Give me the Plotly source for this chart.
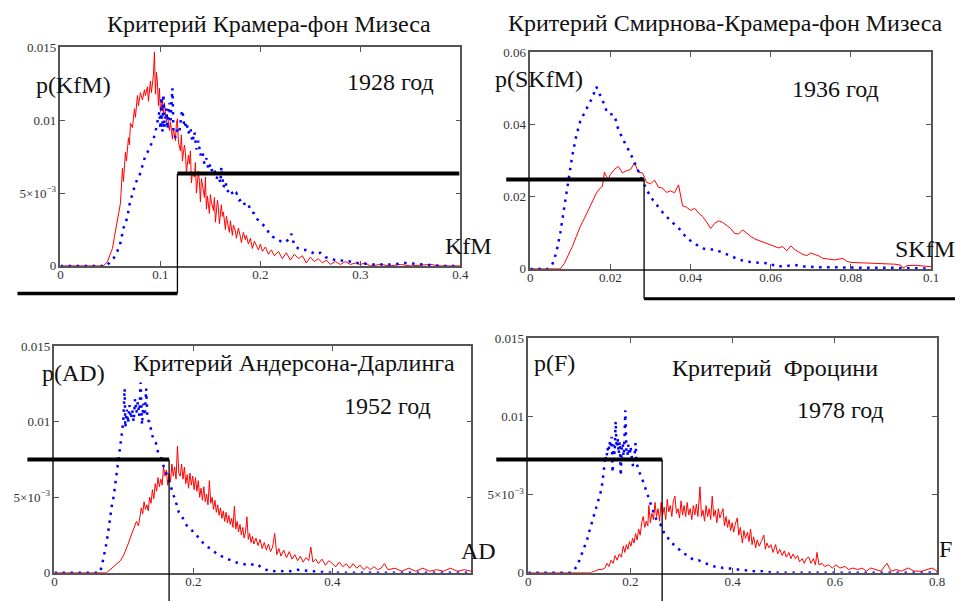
import plotly.graph_objects as go

W, H = 963, 601
# Measured screen mapping of this page (screen = S * figure + C); used to place
# the layout so that it lands on the reference pixel positions.
SX, CX = 0.988, 8.5
SY, CY = 0.982, 12.3
FONT = "Liberation Serif, Times New Roman, serif"

# ---------------- data (x, p(x)) ----------------
kfm_red = [(0, 0), (0.043, 0), (0.047, 0.0003), (0.050, 0.0008), (0.052, 0.0012), (0.054, 0.0020), (0.056, 0.0027),
           (0.058, 0.0036), (0.060, 0.0043), (0.062, 0.0067), (0.063, 0.0058), (0.065, 0.0078), (0.066, 0.0072),
           (0.068, 0.0088), (0.069, 0.0083), (0.070, 0.0098), (0.072, 0.0095), (0.074, 0.0108), (0.075, 0.0102),
           (0.077, 0.0117), (0.078, 0.0110), (0.080, 0.0119), (0.082, 0.0114), (0.084, 0.0121), (0.085, 0.0117),
           (0.087, 0.0123), (0.088, 0.0113), (0.090, 0.0127), (0.091, 0.0119), (0.093, 0.0131), (0.094, 0.0147),
           (0.095, 0.0118), (0.096, 0.0133), (0.097, 0.0126), (0.098, 0.0110), (0.099, 0.0122), (0.100, 0.0106),
           (0.102, 0.0114), (0.103, 0.0104), (0.104, 0.0112), (0.106, 0.0099), (0.107, 0.0104), (0.109, 0.0093),
           (0.110, 0.0099), (0.112, 0.0087), (0.113, 0.0094), (0.115, 0.0086), (0.116, 0.0098), (0.117, 0.0101),
           (0.118, 0.0085), (0.120, 0.0079), (0.121, 0.0090), (0.122, 0.0072), (0.124, 0.0083), (0.125, 0.0078),
           (0.126, 0.0064), (0.128, 0.0076), (0.129, 0.0070), (0.130, 0.0079), (0.131, 0.0057), (0.132, 0.0064),
           (0.134, 0.0061), (0.135, 0.0071), (0.136, 0.0050), (0.138, 0.0065), (0.139, 0.0058), (0.140, 0.0044),
           (0.141, 0.0060), (0.143, 0.0052), (0.144, 0.0047), (0.145, 0.0061), (0.146, 0.0039), (0.147, 0.0048),
           (0.149, 0.0036), (0.150, 0.0049), (0.151, 0.0044), (0.153, 0.0038), (0.154, 0.0047), (0.155, 0.0030),
           (0.157, 0.0045), (0.158, 0.0040), (0.159, 0.0029), (0.161, 0.0042), (0.162, 0.0034), (0.163, 0.0037),
           (0.165, 0.0025), (0.166, 0.0034), (0.168, 0.0028), (0.169, 0.0023), (0.170, 0.0031), (0.172, 0.0021),
           (0.173, 0.0028), (0.175, 0.0024), (0.176, 0.0019), (0.178, 0.0026), (0.180, 0.0020), (0.181, 0.0016),
           (0.183, 0.0023), (0.185, 0.0018), (0.186, 0.0021), (0.188, 0.0015), (0.190, 0.0019), (0.192, 0.0012),
           (0.194, 0.0017), (0.196, 0.0014), (0.198, 0.0011), (0.200, 0.0015), (0.202, 0.0010), (0.205, 0.0013),
           (0.208, 0.0008), (0.211, 0.0011), (0.214, 0.0007), (0.218, 0.0010), (0.222, 0.0005), (0.226, 0.0009),
           (0.230, 0.0004), (0.234, 0.0008), (0.238, 0.0005), (0.242, 0.0007), (0.246, 0.0002), (0.250, 0.0006),
           (0.254, 0.0003), (0.258, 0.0005), (0.262, 0.0002), (0.266, 0.0004), (0.270, 0.0001), (0.275, 0.0003),
           (0.280, 0.0001), (0.285, 0.0003), (0.290, 0.0001), (0.295, 0.0002), (0.300, 0.0001), (0.305, 0.0002),
           (0.310, 0.0000), (0.320, 0.0001), (0.330, 0.0000), (0.340, 0.0001), (0.350, 0.0000), (0.370, 0.0001),
           (0.380, 0.0000), (0.400, 0.0000)]

kfm_blue = [(0, 0), (0.046, 0), (0.050, 0.0003), (0.053, 0.0005), (0.056, 0.0009), (0.059, 0.0013), (0.061, 0.0019),
            (0.063, 0.0026), (0.065, 0.0029), (0.067, 0.0034), (0.069, 0.0042), (0.071, 0.0048), (0.073, 0.0052),
            (0.075, 0.0056), (0.077, 0.0060), (0.079, 0.0062), (0.081, 0.0066), (0.083, 0.0071), (0.085, 0.0076),
            (0.087, 0.0078), (0.089, 0.0081), (0.091, 0.0084), (0.093, 0.0087), (0.095, 0.0092), (0.097, 0.0099),
            (0.099, 0.0106), (0.100, 0.0094), (0.101, 0.0116), (0.102, 0.0092), (0.103, 0.0118), (0.104, 0.0095),
            (0.106, 0.0108), (0.107, 0.0094), (0.109, 0.0112), (0.110, 0.0098), (0.112, 0.0122), (0.113, 0.0093),
            (0.115, 0.0088), (0.117, 0.0094), (0.119, 0.0092), (0.121, 0.0104), (0.122, 0.0107), (0.124, 0.0095),
            (0.126, 0.0099), (0.128, 0.0091), (0.130, 0.0095), (0.132, 0.0085), (0.134, 0.0092), (0.136, 0.0080),
            (0.138, 0.0086), (0.140, 0.0076), (0.142, 0.0079), (0.144, 0.0070), (0.146, 0.0074), (0.148, 0.0066),
            (0.150, 0.0070), (0.152, 0.0064), (0.154, 0.0066), (0.156, 0.0060), (0.158, 0.0062), (0.160, 0.0057),
            (0.161, 0.0068), (0.163, 0.0054), (0.165, 0.0058), (0.167, 0.0051), (0.170, 0.0053), (0.173, 0.0048),
            (0.176, 0.0050), (0.179, 0.0045), (0.182, 0.0046), (0.185, 0.0041), (0.188, 0.0042), (0.191, 0.0037),
            (0.194, 0.0036), (0.197, 0.0032), (0.200, 0.0030), (0.203, 0.0028), (0.206, 0.0026), (0.209, 0.0022),
            (0.212, 0.0020), (0.216, 0.0019), (0.220, 0.0017), (0.224, 0.0016), (0.228, 0.0018), (0.231, 0.0022),
            (0.234, 0.0014), (0.238, 0.0012), (0.242, 0.0011), (0.246, 0.0011), (0.250, 0.0010), (0.255, 0.0008),
            (0.260, 0.0009), (0.265, 0.0006), (0.270, 0.0005), (0.275, 0.0004), (0.280, 0.0004), (0.285, 0.0003),
            (0.290, 0.0003), (0.295, 0.0002), (0.300, 0.0002), (0.310, 0.0001), (0.320, 0.0001), (0.330, 0.0001),
            (0.345, 0.0002), (0.360, 0.0001), (0.380, 0.0000), (0.400, 0.0000)]

skfm_red = [(0, 0), (0.0075, 0), (0.0085, 0.0015), (0.0095, 0.0038), (0.0105, 0.0062), (0.0115, 0.0090),
            (0.0125, 0.0118), (0.0135, 0.0140), (0.0145, 0.0163), (0.0155, 0.0186), (0.0165, 0.0210),
            (0.0175, 0.0225), (0.0180, 0.0229), (0.0185, 0.0268), (0.0190, 0.0256), (0.0195, 0.0250),
            (0.0200, 0.0262), (0.0210, 0.0276), (0.0220, 0.0284), (0.0230, 0.0266), (0.0240, 0.0272),
            (0.0250, 0.0275), (0.0260, 0.0294), (0.0270, 0.0268), (0.0280, 0.0266), (0.0285, 0.0254),
            (0.0290, 0.0240), (0.0300, 0.0236), (0.0310, 0.0246), (0.0320, 0.0226), (0.0330, 0.0224),
            (0.0340, 0.0212), (0.0350, 0.0216), (0.0360, 0.0211), (0.0370, 0.0233), (0.0380, 0.0175),
            (0.0390, 0.0171), (0.0400, 0.0162), (0.0410, 0.0168), (0.0420, 0.0155), (0.0430, 0.0145),
            (0.0440, 0.0130), (0.0450, 0.0112), (0.0460, 0.0126), (0.0470, 0.0133), (0.0480, 0.0129),
            (0.0490, 0.0121), (0.0500, 0.0112), (0.0510, 0.0098), (0.0520, 0.0097), (0.0530, 0.0108),
            (0.0540, 0.0098), (0.0550, 0.0090), (0.0560, 0.0083), (0.0570, 0.0079), (0.0580, 0.0074),
            (0.0590, 0.0069), (0.0600, 0.0066), (0.0610, 0.0062), (0.0620, 0.0058), (0.0630, 0.0062),
            (0.0640, 0.0050), (0.0650, 0.0064), (0.0660, 0.0053), (0.0670, 0.0047), (0.0680, 0.0040),
            (0.0690, 0.0037), (0.0700, 0.0044), (0.0710, 0.0040), (0.0720, 0.0036), (0.0730, 0.0029),
            (0.0740, 0.0027), (0.0760, 0.0025), (0.0780, 0.0029), (0.0790, 0.0021), (0.0800, 0.0018),
            (0.0820, 0.0017), (0.0850, 0.0016), (0.0880, 0.0014), (0.0910, 0.0013), (0.0925, 0.0010),
            (0.0930, 0.0002), (0.0940, 0.0009), (0.0960, 0.0010), (0.0980, 0.0008), (0.1000, 0.0006)]

skfm_blue = [(0, 0), (0.0045, 0), (0.0055, 0.0012), (0.0065, 0.0045), (0.0075, 0.0100), (0.0085, 0.0170),
             (0.0095, 0.0250), (0.0105, 0.0315), (0.0115, 0.0370), (0.0125, 0.0410), (0.0135, 0.0432),
             (0.0145, 0.0452), (0.0155, 0.0475), (0.0165, 0.0505), (0.0175, 0.0482), (0.0185, 0.0455),
             (0.0192, 0.0432), (0.0200, 0.0430), (0.0210, 0.0426), (0.0220, 0.0385), (0.0230, 0.0360),
             (0.0240, 0.0340), (0.0250, 0.0320), (0.0260, 0.0296), (0.0270, 0.0270), (0.0280, 0.0243),
             (0.0290, 0.0220), (0.0300, 0.0200), (0.0310, 0.0185), (0.0320, 0.0170), (0.0330, 0.0157),
             (0.0340, 0.0145), (0.0350, 0.0133), (0.0360, 0.0123), (0.0370, 0.0114), (0.0380, 0.0100),
             (0.0390, 0.0086), (0.0400, 0.0078), (0.0410, 0.0070), (0.0420, 0.0063), (0.0430, 0.0057),
             (0.0440, 0.0054), (0.0460, 0.0054), (0.0480, 0.0046), (0.0500, 0.0036), (0.0520, 0.0026),
             (0.0540, 0.0020), (0.0560, 0.0018), (0.0580, 0.0017), (0.0600, 0.0015), (0.0610, 0.0007),
             (0.0640, 0.0008), (0.0660, 0.0011), (0.0680, 0.0007), (0.0710, 0.0005), (0.0750, 0.0004),
             (0.0800, 0.0004), (0.0850, 0.0003), (0.0900, 0.0003), (0.0950, 0.0002), (0.1000, 0.0001)]

ad_red = [(0, 0), (0.075, 0), (0.080, 0.0002), (0.085, 0.0004), (0.090, 0.0006), (0.095, 0.0008), (0.100, 0.0012),
          (0.103, 0.0015), (0.106, 0.0019), (0.109, 0.0023), (0.112, 0.0027), (0.115, 0.0030), (0.118, 0.0034),
          (0.121, 0.0031), (0.123, 0.0038), (0.125, 0.0043), (0.127, 0.0039), (0.129, 0.0047), (0.131, 0.0042),
          (0.133, 0.0045), (0.135, 0.0041), (0.137, 0.0050), (0.139, 0.0046), (0.141, 0.0055), (0.143, 0.0049),
          (0.145, 0.0059), (0.147, 0.0054), (0.149, 0.0063), (0.151, 0.0057), (0.153, 0.0062), (0.155, 0.0058),
          (0.157, 0.0070), (0.159, 0.0064), (0.161, 0.0068), (0.163, 0.0058), (0.165, 0.0066), (0.167, 0.0060),
          (0.169, 0.0072), (0.171, 0.0064), (0.173, 0.0070), (0.175, 0.0062), (0.177, 0.0084), (0.179, 0.0066),
          (0.181, 0.0064), (0.183, 0.0072), (0.185, 0.0062), (0.187, 0.0070), (0.189, 0.0059), (0.191, 0.0065),
          (0.193, 0.0056), (0.195, 0.0066), (0.197, 0.0058), (0.199, 0.0064), (0.201, 0.0055), (0.203, 0.0063),
          (0.205, 0.0054), (0.207, 0.0061), (0.209, 0.0050), (0.211, 0.0056), (0.213, 0.0048), (0.215, 0.0057),
          (0.217, 0.0047), (0.219, 0.0052), (0.221, 0.0045), (0.223, 0.0061), (0.225, 0.0046), (0.227, 0.0050),
          (0.229, 0.0042), (0.231, 0.0048), (0.233, 0.0040), (0.235, 0.0045), (0.237, 0.0038), (0.239, 0.0043),
          (0.241, 0.0036), (0.243, 0.0041), (0.245, 0.0034), (0.247, 0.0040), (0.249, 0.0033), (0.251, 0.0038),
          (0.253, 0.0032), (0.255, 0.0036), (0.257, 0.0030), (0.259, 0.0044), (0.261, 0.0029), (0.263, 0.0034),
          (0.265, 0.0027), (0.267, 0.0032), (0.269, 0.0025), (0.271, 0.0030), (0.273, 0.0023), (0.275, 0.0027),
          (0.277, 0.0037), (0.279, 0.0022), (0.281, 0.0026), (0.283, 0.0020), (0.285, 0.0024), (0.287, 0.0019),
          (0.290, 0.0023), (0.293, 0.0018), (0.296, 0.0022), (0.299, 0.0016), (0.302, 0.0020), (0.305, 0.0015),
          (0.308, 0.0019), (0.311, 0.0014), (0.314, 0.0017), (0.317, 0.0026), (0.320, 0.0012), (0.323, 0.0016),
          (0.326, 0.0011), (0.330, 0.0015), (0.334, 0.0010), (0.338, 0.0014), (0.342, 0.0009), (0.346, 0.0012),
          (0.350, 0.0008), (0.354, 0.0011), (0.358, 0.0007), (0.362, 0.0010), (0.366, 0.0008), (0.369, 0.0017),
          (0.372, 0.0007), (0.376, 0.0009), (0.380, 0.0006), (0.385, 0.0009), (0.390, 0.0005), (0.395, 0.0008),
          (0.400, 0.0006), (0.405, 0.0004), (0.410, 0.0007), (0.415, 0.0004), (0.420, 0.0006), (0.425, 0.0003),
          (0.430, 0.0006), (0.435, 0.0003), (0.440, 0.0005), (0.445, 0.0002), (0.450, 0.0004), (0.455, 0.0002),
          (0.460, 0.0004), (0.465, 0.0002), (0.470, 0.0003), (0.475, 0.0006), (0.480, 0.0002), (0.490, 0.0003),
          (0.500, 0.0001), (0.510, 0.0003), (0.520, 0.0001), (0.530, 0.0003), (0.540, 0.0001), (0.550, 0.0002),
          (0.560, 0.0001), (0.570, 0.0003), (0.580, 0.0001), (0.590, 0.0002), (0.600, 0.0001)]

ad_blue = [(0, 0), (0.065, 0), (0.068, 0.0004), (0.070, 0.0008), (0.072, 0.0013), (0.075, 0.0020), (0.077, 0.0026),
           (0.079, 0.0033), (0.081, 0.0040), (0.083, 0.0046), (0.085, 0.0050), (0.087, 0.0058), (0.089, 0.0065),
           (0.091, 0.0072), (0.093, 0.0078), (0.095, 0.0085), (0.097, 0.0091), (0.099, 0.0100), (0.101, 0.0122),
           (0.102, 0.0096), (0.104, 0.0108), (0.106, 0.0099), (0.108, 0.0111), (0.110, 0.0102), (0.112, 0.0108),
           (0.114, 0.0100), (0.116, 0.0115), (0.118, 0.0106), (0.120, 0.0113), (0.122, 0.0104), (0.124, 0.0126),
           (0.126, 0.0098), (0.128, 0.0112), (0.130, 0.0104), (0.132, 0.0122), (0.134, 0.0101), (0.137, 0.0100),
           (0.140, 0.0092), (0.143, 0.0088), (0.146, 0.0086), (0.149, 0.0080), (0.152, 0.0078), (0.155, 0.0074),
           (0.158, 0.0069), (0.161, 0.0066), (0.164, 0.0062), (0.167, 0.0058), (0.170, 0.0054), (0.173, 0.0050),
           (0.176, 0.0045), (0.179, 0.0040), (0.182, 0.0038), (0.185, 0.0036), (0.188, 0.0033), (0.191, 0.0031),
           (0.194, 0.0030), (0.198, 0.0028), (0.202, 0.0025), (0.206, 0.0024), (0.210, 0.0022), (0.215, 0.0019),
           (0.220, 0.0017), (0.225, 0.0016), (0.230, 0.0014), (0.235, 0.0012), (0.240, 0.0011), (0.245, 0.0010),
           (0.250, 0.0009), (0.255, 0.0008), (0.260, 0.0007), (0.270, 0.0006), (0.280, 0.0005), (0.290, 0.0006),
           (0.300, 0.0003), (0.310, 0.0001), (0.320, 0.0001), (0.340, 0.0001), (0.350, 0.0002), (0.370, 0.0001),
           (0.400, 0.0000), (0.600, 0.0000)]

f_red = [(0, 0), (0.122, 0), (0.130, 0.0001), (0.137, 0.0002), (0.144, 0.0002), (0.150, 0.0003), (0.154, 0.0006),
         (0.158, 0.0004), (0.162, 0.0008), (0.166, 0.0006), (0.170, 0.0011), (0.174, 0.0008), (0.178, 0.0012),
         (0.182, 0.0010), (0.186, 0.0017), (0.189, 0.0013), (0.192, 0.0018), (0.195, 0.0015), (0.198, 0.0020),
         (0.201, 0.0017), (0.204, 0.0022), (0.207, 0.0019), (0.210, 0.0025), (0.213, 0.0021), (0.216, 0.0028),
         (0.219, 0.0024), (0.222, 0.0032), (0.225, 0.0036), (0.228, 0.0029), (0.231, 0.0033), (0.234, 0.0030),
         (0.236, 0.0043), (0.239, 0.0032), (0.242, 0.0038), (0.245, 0.0034), (0.248, 0.0045), (0.251, 0.0036),
         (0.254, 0.0041), (0.257, 0.0033), (0.260, 0.0045), (0.263, 0.0037), (0.266, 0.0042), (0.269, 0.0034),
         (0.272, 0.0047), (0.275, 0.0039), (0.278, 0.0043), (0.281, 0.0036), (0.284, 0.0046), (0.287, 0.0049),
         (0.290, 0.0038), (0.293, 0.0041), (0.296, 0.0035), (0.299, 0.0046), (0.302, 0.0037), (0.305, 0.0043),
         (0.308, 0.0036), (0.311, 0.0045), (0.314, 0.0037), (0.317, 0.0041), (0.320, 0.0034), (0.323, 0.0043),
         (0.326, 0.0037), (0.329, 0.0044), (0.332, 0.0036), (0.336, 0.0055), (0.339, 0.0036), (0.342, 0.0040),
         (0.345, 0.0033), (0.348, 0.0043), (0.351, 0.0036), (0.354, 0.0041), (0.357, 0.0034), (0.360, 0.0049),
         (0.363, 0.0036), (0.366, 0.0040), (0.369, 0.0032), (0.372, 0.0041), (0.375, 0.0035), (0.378, 0.0038),
         (0.381, 0.0041), (0.384, 0.0030), (0.387, 0.0036), (0.390, 0.0029), (0.393, 0.0034), (0.396, 0.0027),
         (0.399, 0.0032), (0.402, 0.0026), (0.405, 0.0031), (0.409, 0.0035), (0.412, 0.0024), (0.415, 0.0029),
         (0.419, 0.0019), (0.422, 0.0027), (0.425, 0.0022), (0.429, 0.0026), (0.432, 0.0020), (0.435, 0.0028),
         (0.438, 0.0018), (0.441, 0.0023), (0.445, 0.0016), (0.448, 0.0021), (0.452, 0.0017), (0.456, 0.0020),
         (0.461, 0.0024), (0.464, 0.0015), (0.467, 0.0019), (0.471, 0.0016), (0.475, 0.0018), (0.479, 0.0013),
         (0.484, 0.0018), (0.488, 0.0012), (0.492, 0.0015), (0.497, 0.0011), (0.501, 0.0014), (0.505, 0.0010),
         (0.510, 0.0013), (0.514, 0.0009), (0.518, 0.0012), (0.523, 0.0009), (0.527, 0.0011), (0.531, 0.0007),
         (0.536, 0.0009), (0.540, 0.0006), (0.544, 0.0009), (0.549, 0.0010), (0.553, 0.0006), (0.558, 0.0009),
         (0.562, 0.0005), (0.565, 0.0013), (0.569, 0.0005), (0.575, 0.0006), (0.580, 0.0004), (0.588, 0.0005),
         (0.595, 0.0003), (0.602, 0.0005), (0.610, 0.0003), (0.620, 0.0004), (0.627, 0.0002), (0.635, 0.0003),
         (0.645, 0.0002), (0.653, 0.0003), (0.662, 0.0001), (0.670, 0.0003), (0.679, 0.0002), (0.690, 0.0001),
         (0.702, 0.0006), (0.710, 0.0001), (0.720, 0.0002), (0.730, 0.0001), (0.744, 0.0003), (0.755, 0.0001),
         (0.770, 0.0001), (0.780, 0.0002), (0.790, 0.0003), (0.800, 0.0001)]

f_blue = [(0, 0), (0.084, 0), (0.090, 0.0002), (0.095, 0.0004), (0.100, 0.0008), (0.105, 0.0012), (0.110, 0.0016),
          (0.115, 0.0021), (0.120, 0.0027), (0.125, 0.0033), (0.130, 0.0038), (0.135, 0.0044), (0.140, 0.0050),
          (0.143, 0.0053), (0.146, 0.0060), (0.149, 0.0068), (0.151, 0.0075), (0.153, 0.0072), (0.155, 0.0080),
          (0.157, 0.0077), (0.159, 0.0084), (0.161, 0.0080), (0.163, 0.0087), (0.165, 0.0064), (0.167, 0.0082),
          (0.169, 0.0076), (0.171, 0.0097), (0.173, 0.0080), (0.175, 0.0086), (0.177, 0.0076), (0.179, 0.0084),
          (0.181, 0.0062), (0.183, 0.0080), (0.185, 0.0083), (0.187, 0.0072), (0.189, 0.0094), (0.190, 0.0104),
          (0.192, 0.0078), (0.194, 0.0075), (0.196, 0.0082), (0.198, 0.0070), (0.200, 0.0081), (0.203, 0.0072),
          (0.205, 0.0068), (0.208, 0.0075), (0.210, 0.0083), (0.212, 0.0070), (0.215, 0.0066), (0.218, 0.0064),
          (0.222, 0.0061), (0.225, 0.0058), (0.228, 0.0055), (0.232, 0.0052), (0.235, 0.0049), (0.238, 0.0046),
          (0.241, 0.0043), (0.245, 0.0039), (0.248, 0.0036), (0.251, 0.0034), (0.254, 0.0032), (0.258, 0.0031),
          (0.261, 0.0030), (0.264, 0.0027), (0.267, 0.0024), (0.272, 0.0023), (0.276, 0.0021), (0.280, 0.0019),
          (0.285, 0.0018), (0.290, 0.0017), (0.295, 0.0015), (0.300, 0.0013), (0.306, 0.0012), (0.313, 0.0011),
          (0.320, 0.0009), (0.326, 0.0008), (0.333, 0.0008), (0.339, 0.0007), (0.347, 0.0006), (0.355, 0.0005),
          (0.364, 0.0004), (0.372, 0.0004), (0.381, 0.0003), (0.391, 0.0003), (0.404, 0.0002), (0.417, 0.0002),
          (0.436, 0.0001), (0.456, 0.0001), (0.480, 0.0000), (0.800, 0.0000)]

# critical-value guide lines: (critical x, level, lower level, left end, right end)
kfm_crit = (0.117, 0.00634, -0.0019, -0.043, 0.399)
skfm_crit = (0.0284, 0.0248, -0.0083, -0.006, 0.106)
ad_crit = (0.165, 0.0075, -0.003, -0.039, None)
f_crit = (0.262, 0.00725, -0.003, -0.0626, None)

# tick labels
kfm_xticks = [0, 0.1, 0.2, 0.3, 0.4]
kfm_xlabels = ["0", "0.1", "0.2", "0.3", "0.4"]
kfm_yticks = [0, 0.005, 0.01, 0.015]
kfm_ylabels = ["0", "5×10<sup>−3</sup>", "0.01", "0.015"]
skfm_xticks = [0, 0.02, 0.04, 0.06, 0.08, 0.1]
skfm_xlabels = ["0", "0.02", "0.04", "0.06", "0.08", "0.1"]
skfm_yticks = [0, 0.02, 0.04, 0.06]
skfm_ylabels = ["0", "0.02", "0.04", "0.06"]
ad_xticks = [0, 0.2, 0.4]
ad_xlabels = ["0", "0.2", "0.4"]
f_xticks = [0, 0.2, 0.4, 0.6, 0.8]
f_xlabels = ["0", "0.2", "0.4", "0.6", "0.8"]

# ---------------- layout helpers (reference pixel -> paper) ----------------
def px_x(p):
    return ((p - CX) / SX) / W

def px_y(p):
    return 1 - ((p - CY) / SY) / H

panels = [
    dict(box=(58, 458, 45, 265), xr=(0, 0.4), yr=(0, 0.015), xt=kfm_xticks, xl=kfm_xlabels,
         yt=kfm_yticks, yl=kfm_ylabels, red=kfm_red, blue=kfm_blue, crit=kfm_crit, upper="right", lower="left"),
    dict(box=(528, 929, 50, 268), xr=(0, 0.1), yr=(0, 0.06), xt=skfm_xticks, xl=skfm_xlabels,
         yt=skfm_yticks, yl=skfm_ylabels, red=skfm_red, blue=skfm_blue, crit=skfm_crit, upper="left", lower="right"),
    dict(box=(52, 469, 346, 574), xr=(0, 0.6), yr=(0, 0.015), xt=ad_xticks, xl=ad_xlabels,
         yt=kfm_yticks, yl=kfm_ylabels, red=ad_red, blue=ad_blue, crit=ad_crit, upper="left", lower=None),
    dict(box=(526, 935, 338, 574), xr=(0, 0.8), yr=(0, 0.015), xt=f_xticks, xl=f_xlabels,
         yt=kfm_yticks, yl=kfm_ylabels, red=f_red, blue=f_blue, crit=f_crit, upper="left", lower=None),
]

fig = go.Figure()
layout = dict(width=W, height=H, margin=dict(l=0, r=0, t=0, b=0, pad=0), autosize=False,
              paper_bgcolor="white", plot_bgcolor="rgba(0,0,0,0)", showlegend=False,
              font=dict(family=FONT, color="#111"))

axis_style = dict(showline=True, linecolor="#555", linewidth=1.5, mirror="ticks", ticks="inside",
                  ticklen=5, tickcolor="#555", tickwidth=1.2, showgrid=False, zeroline=False,
                  tickfont=dict(family=FONT, size=13, color="#333"), fixedrange=True)

for i, p in enumerate(panels):
    n = i + 1
    m = i + 5
    l, r, t, b = p["box"]
    xd = [px_x(l), px_x(r)]
    yd = [px_y(b), px_y(t)]
    xs = "" if n == 1 else str(n)
    layout["xaxis" + xs] = dict(axis_style, domain=xd, range=list(p["xr"]), anchor="y" + xs,
                                tickmode="array", tickvals=p["xt"], ticktext=p["xl"], ticklabelstandoff=-4)
    layout["yaxis" + xs] = dict(axis_style, domain=yd, range=list(p["yr"]), anchor="x" + xs,
                                tickmode="array", tickvals=p["yt"], ticktext=p["yl"])
    # full-canvas overlay axes with identical scale, so guide lines can leave the box
    x0, x1 = p["xr"]
    y0, y1 = p["yr"]
    ux = (x1 - x0) / (xd[1] - xd[0])
    uy = (y1 - y0) / (yd[1] - yd[0])
    layout["xaxis" + str(m)] = dict(domain=[0, 1], range=[x0 - xd[0] * ux, x0 + (1 - xd[0]) * ux],
                                    visible=False, anchor="y" + str(m), fixedrange=True)
    layout["yaxis" + str(m)] = dict(domain=[0, 1], range=[y0 - yd[0] * uy, y0 + (1 - yd[0]) * uy],
                                    visible=False, anchor="x" + str(m), fixedrange=True)

    rx, ry = zip(*p["red"])
    bx, by = zip(*p["blue"])
    fig.add_trace(go.Scatter(x=rx, y=ry, mode="lines", line=dict(color="#ff0000", width=1),
                             xaxis="x" + xs, yaxis="y" + xs, hoverinfo="skip"))
    fig.add_trace(go.Scatter(x=bx, y=by, mode="lines", line=dict(color="#0000ff", width=2.5, dash="2.5px,5.5px"),
                             xaxis="x" + xs, yaxis="y" + xs, hoverinfo="skip"))

    cx, lev, low, left, right = p["crit"]
    ox, oy = "x" + str(m), "y" + str(m)
    ux_pts = [cx, right] if p["upper"] == "right" else [left, cx]
    fig.add_trace(go.Scatter(x=ux_pts, y=[lev, lev], mode="lines", line=dict(color="black", width=4),
                             xaxis=ox, yaxis=oy, hoverinfo="skip"))
    fig.add_trace(go.Scatter(x=[cx, cx], y=[lev, low], mode="lines", line=dict(color="black", width=1.3),
                             xaxis=ox, yaxis=oy, hoverinfo="skip"))
    if p["lower"] == "left":
        fig.add_trace(go.Scatter(x=[left, cx], y=[low, low], mode="lines", line=dict(color="black", width=3.5),
                                 xaxis=ox, yaxis=oy, hoverinfo="skip"))
    elif p["lower"] == "right":
        fig.add_trace(go.Scatter(x=[cx, right], y=[low, low], mode="lines", line=dict(color="black", width=3),
                                 xaxis=ox, yaxis=oy, hoverinfo="skip"))

# ---------------- texts ----------------
texts = [
    ("Критерий Крамера-фон Мизеса", 267, 21, "center"),
    ("p(KfM)", 71, 83, "center"),
    ("1928 год", 388, 80, "center"),
    ("KfM", 442, 245, "left"),
    ("Критерий Смирнова-Крамера-фон Мизеса", 723, 20, "center"),
    ("p(SKfM)", 537, 77, "center"),
    ("1936 год", 833, 87, "center"),
    ("SKfM", 892, 248, "left"),
    ("p(AD)", 71, 373, "center"),
    ("Критерий Андерсона-Дарлинга", 292, 363, "center"),
    ("1952 год", 385, 406, "center"),
    ("AD", 458, 552, "left"),
    ("p(F)", 552, 363, "center"),
    ("Критерий\u00a0 Фроцини", 773, 368, "center"),
    ("1978 год", 838, 410, "center"),
    ("F", 936, 550, "left"),
]
annotations = []
for txt, x, y, anc in texts:
    annotations.append(dict(text=txt, x=px_x(x), y=px_y(y), xref="paper", yref="paper",
                            xanchor=anc, yanchor="middle", showarrow=False, borderpad=0,
                            font=dict(family=FONT, size=24, color="#111")))
layout["annotations"] = annotations

fig.update_layout(**layout)
fig.write_html("out.html")
